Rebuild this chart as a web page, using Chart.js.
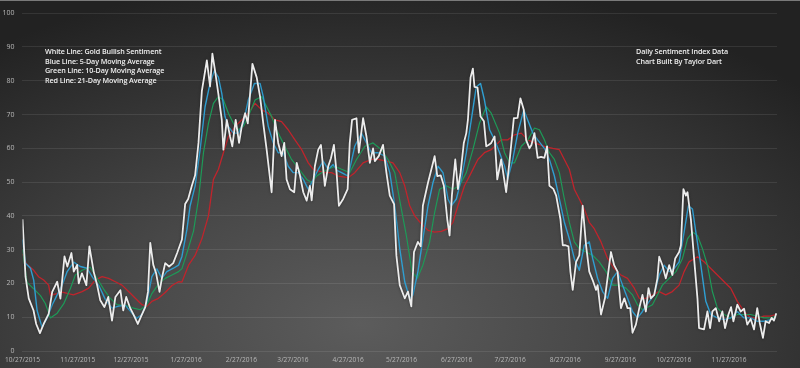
<!DOCTYPE html>
<html>
<head>
<meta charset="utf-8">
<script src="https://cdn.jsdelivr.net/npm/chart.js@4"></script>
<style>
  html, body { margin: 0; padding: 0; }
  body {
    width: 800px; height: 368px; overflow: hidden; position: relative;
    background: radial-gradient(ellipse 75% 95% at 45% 88%, #5c5c5c 0%, #484848 40%, #323232 75%, #222 100%);
    font-family: 'Open Sans', sans-serif;
  }
  #wrap { position: absolute; left: 0; top: 0; width: 800px; height: 368px; border-top: 1px solid #7a7a7a; box-sizing: border-box; }
  .note { position: absolute; color: #f0f0f0; font-size: 7.2px; font-weight: 600; line-height: 9.6px; white-space: nowrap; letter-spacing: -0.1px; }
</style>
</head>
<body>
<div id="wrap"><canvas id="dsi-chart" width="800" height="368"></canvas></div>
<div class="note" style="left:45px; top:47px;">White Line: Gold Bullish Sentiment<br>Blue Line: 5-Day Moving Average<br>Green Line: 10-Day Moving Average<br>Red Line: 21-Day Moving Average</div>
<div class="note" style="left:636px; top:47px;">Daily Sentiment Index Data<br>Chart Built By Taylor Dart</div>
<script>
// days counted from 10/27/2015
const monthDays   = [0, 31, 61, 92, 123, 152, 183, 213, 244, 274, 305, 336, 366, 397];
const monthLabels = ['10/27/2015', '11/27/2015', '12/27/2015', '1/27/2016', '2/27/2016', '3/27/2016',
  '4/27/2016', '5/27/2016', '6/27/2016', '7/27/2016', '8/27/2016', '9/27/2016', '10/27/2016', '11/27/2016'];

// [day, value]
const goldSentiment = [
  [0,39],[1.7,22],[3.5,15.6],[6.2,12],[7.7,8],[9.8,5.3],[11.9,8],[14.7,11],[16.7,17.5],[19.5,20.5],
  [21.3,15.5],[23.6,28],[25.2,25],[27.5,29],[28.8,23.5],[30.7,25.5],[31.6,20],[33.4,23],[35.9,19.5],[37.6,31],
  [40,23.5],[41.9,19.6],[43.7,15],[46,13],[48.2,16],[50.3,9],[52.2,16],[55,18],[56.6,12],[58.3,16],
  [60.6,12.6],[62.2,11],[64.8,8],[66.7,10.3],[69,13],[70.5,17.5],[71.8,32],[73.5,25.5],[75.1,23],[77,17.5],
  [78.5,22],[80.2,26],[82.4,25],[84.7,26],[86.9,29],[89.6,33],[91.4,43.5],[93.1,45],[95.2,49],[97,52],
  [98.9,61.6],[100.8,77],[103.6,86],[105.4,78.3],[106.7,88],[108.2,83],[110.1,76],[112,68.4],[112.9,59.6],[114.8,68.4],
  [116.6,63.6],[117.9,60.6],[119.8,68.4],[121.7,61.6],[123.2,66.5],[125.1,70.4],[126.6,67.4],[129.2,85],[131.6,81],[133.5,75.3],
  [135.3,67.4],[137.2,59.6],[140,47],[141.9,68.4],[143.7,61.6],[145.6,57.7],[147.1,61.6],[148.4,50.8],[150.3,47.9],[152.7,47],
  [154.1,55.7],[155.9,52],[157.8,47],[159.7,44.5],[161.5,48.9],[162.5,44.6],[164.3,54.7],[166.2,59.6],[167.7,61],[169.9,48.9],
  [171.8,54.7],[173.3,57],[175,61],[176.5,52.8],[177.8,43],[180.2,45],[182.7,47.9],[183.9,61.6],[185.2,68.4],[187.7,68.9],
  [189,58.7],[191.4,68.9],[193.3,63.5],[195.2,55.7],[197,60],[198,56.2],[200.2,57.7],[202.6,61],[204.5,52.8],[206.4,46],
  [208.8,43.5],[210.1,28.3],[212,19.5],[214.8,15.6],[216.6,17.6],[218.5,13.2],[220,29.3],[222.2,32.3],[223.8,31],[225,43],
  [227.9,49.9],[230.7,55.7],[231.6,57.7],[233.1,51.8],[235,52],[236.8,48.9],[238.7,39],[240,34.2],[241.3,46],[243.2,56.7],
  [244.7,47.9],[246.2,52.8],[248,61.6],[249.4,64.5],[250.3,68.4],[251.8,81],[253.1,83.6],[254,78.2],[255.7,78],[257.4,69.4],
  [259.3,68],[260.6,60.6],[261.9,61],[263.4,61.6],[265.3,63.5],[266.8,50.8],[269,56.7],[271.8,47],[274.2,58.7],[276.1,68.9],
  [278.2,69],[279.8,74.8],[281.7,71.4],[283,62.5],[284.9,60],[286,61],[287.7,64.5],[289.5,57.2],[291.4,57.5],[293.3,57.2],
  [294.8,60.6],[296.1,48.9],[298.3,48],[299.9,46],[302.3,39],[303.6,31.3],[305.1,31.3],[306.8,31],[307.9,23.5],[309.2,18.1],
  [311.1,26.4],[312.9,28.3],[314.8,43],[316.7,31.3],[318.5,23.5],[320.4,21],[322.3,18.1],[323.2,19.5],[325.1,10.8],[327.3,15.6],
  [329.7,25.4],[330.7,29.3],[332.5,25.4],[334.4,23.5],[336.3,12.7],[338.2,15.6],[340,12.7],[341.5,12.7],[342.8,5.4],[344.7,7.8],
  [346.6,12.7],[348.4,16.6],[350.3,11.7],[351.8,18.6],[353.1,15.6],[355,16.6],[356.8,21.5],[357.8,27.9],[359.6,25.4],[361.5,21.5],
  [363.4,25.4],[365.2,22.5],[366.8,27.4],[369,29.3],[370,31.3],[371.4,47.9],[372.8,46],[373.7,47],[375.6,39],[377.4,27.4],
  [379.3,15.6],[380.2,6.8],[383,6.4],[384.9,11.7],[386.4,6.8],[387.7,11.7],[389.6,12.7],[391.5,8.8],[393.3,11.7],[394.8,6.8],
  [396.7,10.8],[398.2,13],[399.5,8.8],[401.7,13.7],[403.6,11.7],[405.5,12.5],[407.3,7.8],[409.2,9.5],[411.1,6.4],[412.9,12.7],
  [414.3,8.3],[416.1,3.9],[417.6,8.8],[419.5,8.3],[421,9.8],[422.3,9],[423.6,11.2]
];

const ma5 = [
  [0,33],[1.7,26],[4.5,24.5],[6.3,21],[8.2,12],[11,7],[13.9,9.8],[16.7,13.7],[19.5,16.6],[22.3,19.5],
  [25.1,23.5],[28.8,26.3],[32.5,25],[36.3,24.5],[39.4,21.8],[42.8,19.5],[46.5,15.3],[50.3,12.7],[54,13.3],[57.8,13.5],
  [61.5,11.2],[64.3,9.7],[67.1,10.8],[69.9,14.5],[72.7,22],[75.5,24.3],[78.3,21.5],[81.1,23.5],[84.8,24.5],[87.7,25.4],
  [89.6,28],[92.4,36],[94.2,43],[97,48.9],[99.8,59.6],[102.6,72.3],[105.4,79.2],[107.8,83],[110.1,81],[112,76.2],
  [113.8,69.4],[115.7,66.5],[118.5,64.5],[121.3,64.5],[124.1,67.4],[126.9,74.3],[130.3,79.2],[133.5,79.2],[135.3,75.3],[138.1,66.5],
  [140.9,61.6],[143.7,58.7],[146.5,58.7],[149.3,54.7],[152.1,52.8],[155,52.8],[157.8,50.8],[160.6,47.9],[163.4,50.8],[166.2,53.8],
  [169,56.2],[171.8,53.8],[174.6,55.2],[176.7,53.5],[179.3,52.8],[183,51.8],[186.7,60.6],[190.5,64.5],[193.3,61.6],[196.1,58.7],
  [199.8,58.7],[203.6,57.7],[206.4,52.8],[209.2,43],[212,30.3],[214.8,20.5],[217.6,15.6],[219.4,16.6],[222.2,23.5],[225,33.2],
  [227.9,43],[230.7,49.9],[233.5,54.7],[236.3,52.8],[239.1,45],[241,43],[243.8,45],[246.6,50.8],[249.4,58.7],[252.2,68.4],
  [255,78.2],[257.4,79.2],[259.6,74.3],[262.5,65.5],[265.3,62.5],[268.1,58.7],[270.9,54.7],[272.7,50.8],[275.5,56.7],[278.3,64.5],
  [281.7,71.4],[283.9,68.4],[286.8,64.5],[289.5,62.5],[293.3,60],[296.1,56.7],[298.9,51.8],[301.7,45],[304.5,38.1],[307.3,33.2],
  [310.1,27.4],[312.9,23.9],[315.7,31.3],[318.5,32.3],[320.4,27.4],[323.2,21.5],[326,17.6],[328.8,15.6],[331.6,21.5],[334.4,23.5],
  [337.2,19.5],[340,15.6],[342.8,11.7],[345.6,9.8],[348.4,11.7],[352.2,14.7],[355,16.6],[357.8,22.5],[360.6,25.4],[363.4,23.5],
  [366.2,24.4],[369,26.4],[371.8,35.2],[374.2,43],[376.5,42],[378.4,35.2],[381.2,25.4],[384,14.7],[386.8,10.8],[390.5,9.8],
  [394.3,9.3],[398,9.8],[401.7,11.7],[405.5,9.8],[409.2,9.8],[412.9,8.8],[416.7,8.8],[420.4,9.3],[423.2,9.8]
];

const ma10 = [
  [0,30],[2.6,20.3],[6.3,18.4],[10.1,16.4],[12.9,14],[15.7,9.8],[19.5,11.2],[23.2,14],[26.9,18.5],[29.7,22.5],
  [33.5,23.9],[38.1,24.8],[41.9,21.5],[46,18],[49.3,15.6],[53.1,13.7],[57.8,13.5],[62.4,12.7],[66.2,12.2],[69.9,13.7],
  [72.7,17],[76.4,19.8],[80.2,21.5],[84,22.5],[87.7,23.5],[89.6,24.4],[92.4,29],[96.1,35.5],[98.9,45],[101.7,58.7],
  [104.5,67.4],[107.3,73.3],[110.1,75.3],[112.9,74.3],[115.7,70.4],[118.5,67.4],[121.3,65.5],[124.1,66.5],[126.9,69.4],[130.7,74.3],
  [134.4,75.3],[137.2,72.3],[140,69.4],[142.8,65.5],[145.6,62.5],[148.4,59.6],[151.2,56.7],[154.1,54.7],[156.9,52.8],[159.7,50.8],
  [162.5,49.9],[165.3,51.8],[168.1,52.8],[171.8,53.8],[175.5,54.7],[179.3,53.8],[183.9,52.8],[187.7,56.7],[192.4,60.6],[197,61.6],
  [201.7,59.6],[205.4,56.7],[209.2,52.8],[212.9,42],[215.7,34.2],[218.9,23.5],[221.9,21.5],[225,25.4],[228.8,32.3],[231.6,41],
  [234.4,47.9],[238.2,48.9],[241.9,47.9],[245.6,48.9],[249.4,52.8],[253.1,59.6],[256.8,67.4],[260.6,72.3],[263.4,70.4],[268.1,64.5],
  [270.9,58.7],[273.7,55.7],[276.5,55.7],[280.3,60.6],[284,62.5],[287.7,66],[290.5,65.5],[293.3,62.5],[296.1,58.7],[298.9,56.7],
  [301.7,52.8],[304.5,45],[307.3,38.1],[310.1,32.3],[312.9,30.3],[316.7,29.3],[320.4,28.3],[324.1,26.4],[327.9,23.5],[331.6,19.5],
  [335.4,19.5],[339.1,18.6],[342.8,16.6],[345.6,13.7],[348.4,12.2],[350.3,12.7],[354,13.7],[356.8,16.6],[359.6,19.5],[363.4,21.5],
  [367.2,23.5],[370.9,27.4],[373.7,33.2],[376.5,35.2],[379.3,34.2],[382.1,30.3],[384.9,25.4],[387.7,17.6],[390.5,12.7],[394.3,10.8],
  [398,9.8],[401.7,10.8],[405.5,10.8],[409.2,10.8],[412.9,10.3],[416.7,9.8],[420.4,9.8],[423.2,10.3]
];

const ma21 = [
  [0,28.7],[2.2,25.8],[6.3,23.9],[9,22],[11.9,21],[14.7,19.5],[15.7,16.5],[22.3,17.4],[28.6,16.6],[33.5,17.6],
  [37.2,18.6],[40.9,21],[44.7,22],[48.4,21.5],[52.2,20.5],[55.9,19.5],[59.6,17.6],[63.4,15.6],[67.1,13.7],[69.9,13.2],
  [72.7,14.7],[76.4,15.6],[80.2,17.3],[84,19.4],[87.7,20.5],[89.6,20.4],[93.3,25.4],[97,28.3],[100.8,33.2],[104.5,40],
  [107.3,50.8],[110.1,53.8],[112.9,58.7],[115.7,63.5],[119.5,66.5],[123.2,68.4],[126.9,70.4],[130.7,73.3],[134.4,71.4],[138.1,70.4],
  [141.9,68.4],[145.6,67.9],[149.3,65.5],[153.1,62.5],[156.9,59.6],[160.6,55.7],[163.4,53.8],[166.2,53.3],[169.9,52.8],[173.7,52.8],
  [177.4,51.8],[183,51.3],[186.7,52.8],[191.4,55.7],[196.1,56.7],[199.8,56.7],[204.5,56.2],[208.2,55.7],[212,52.8],[214.8,48.9],
  [217.6,43],[220.4,40],[224.2,37.6],[227.9,35.7],[231.6,35.2],[235.4,35.4],[239.1,36.2],[241.9,38.1],[244.7,43],[248.4,48.9],
  [252.2,52.8],[255.9,56.7],[259.6,58.7],[263.4,59.6],[269,62.5],[272.7,62.5],[276.5,64],[280.3,64.5],[284,62.5],[287.7,61.6],
  [293.3,60.6],[298,60],[301.7,59.6],[304.5,56.7],[307.3,53.8],[310.1,47.9],[312.9,45],[315.7,42],[318.5,38.1],[321.3,36.2],
  [325.1,32.3],[328.8,27.4],[332.5,24.4],[336.3,22.5],[340,21.5],[343.8,18.6],[346.6,15.6],[350.3,15.6],[354,16.6],[357.8,17.6],
  [361.5,16.6],[365.2,17.6],[369,19.5],[371.8,23.5],[374.6,26.4],[379.3,27.9],[383,26.4],[386.8,24.4],[390.5,22.5],[394.3,20.5],
  [398,18.6],[401.7,14.7],[405.5,11.7],[409.2,9.8],[412.9,9.8],[416.7,10.3],[420.4,10.3],[423.2,10.8]
];

const toPoints = arr => arr.map(([d, v]) => ({ x: d, y: v }));

// soft halo under the white line
const glowPlugin = {
  id: 'glow',
  beforeDatasetDraw(chart, args) {
    if (args.index !== 0) return;
    chart.ctx.save();
    chart.ctx.shadowColor = 'rgba(20,20,20,0.6)';
    chart.ctx.shadowBlur = 2.5;
  },
  afterDatasetDraw(chart, args) {
    if (args.index !== 0) return;
    chart.ctx.restore();
  },
};

const tickFont = { family: "'Open Sans', sans-serif", size: 6.6 };

new Chart(document.getElementById('dsi-chart'), {
  type: 'line',
  data: {
    datasets: [
      { label: 'Gold Bullish Sentiment', data: toPoints(goldSentiment), borderColor: '#ececec', borderWidth: 1.8 },
      { label: '5-Day Moving Average', data: toPoints(ma5), borderColor: '#2f9fd2', borderWidth: 1.4 },
      { label: '10-Day Moving Average', data: toPoints(ma10), borderColor: '#1d9a58', borderWidth: 1.2 },
      { label: '21-Day Moving Average', data: toPoints(ma21), borderColor: '#c0242c', borderWidth: 1.3 },
    ],
  },
  options: {
    responsive: false,
    animation: false,
    parsing: false,
    elements: { point: { radius: 0 }, line: { tension: 0, borderJoinStyle: 'round' } },
    layout: { padding: { left: 0, right: 23, top: 7, bottom: 0 } },
    plugins: { legend: { display: false }, tooltip: { enabled: false } },
    scales: {
      x: {
        type: 'linear',
        min: 0,
        max: 424,
        afterBuildTicks: axis => { axis.ticks = monthDays.map(v => ({ value: v })); },
        afterFit: scale => { scale.height = 18; },
        grid: { display: false, drawTicks: false },
        border: { display: false },
        ticks: {
          color: '#b8b8b8',
          font: tickFont,
          padding: 5,
          maxRotation: 0,
          autoSkip: false,
          callback: (v, i) => monthLabels[i],
        },
      },
      y: {
        min: 0,
        max: 100,
        afterFit: scale => { scale.width = 20; },
        grid: { color: 'rgba(255,255,255,0.09)', drawTicks: false },
        border: { display: false },
        ticks: { stepSize: 10, color: '#b8b8b8', font: { family: "'Open Sans', sans-serif", size: 7 }, padding: 8 },
      },
    },
  },
  plugins: [glowPlugin],
});
</script>
</body>
</html>
